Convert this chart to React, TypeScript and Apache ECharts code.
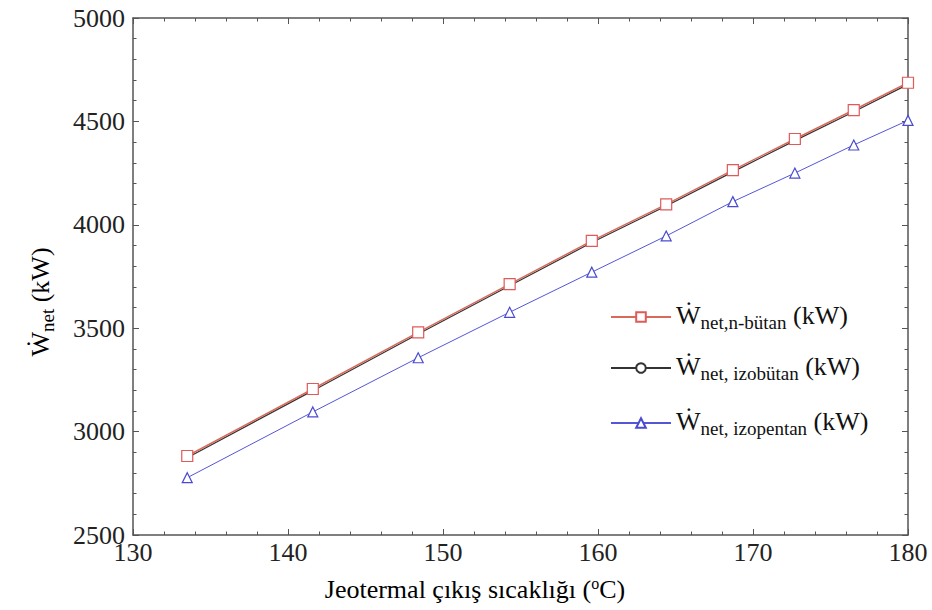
import React, { useEffect, useRef } from "react";
import * as echarts from "echarts";

const temps = [133.5, 141.6, 148.4, 154.3, 159.6, 164.4, 168.7, 172.7, 176.5, 180];
const nButan = [2882, 3206, 3480, 3713, 3922, 4099, 4264, 4415, 4555, 4687];
const izoButan = [2874, 3198, 3472, 3705, 3914, 4091, 4256, 4407, 4547, 4679];
const izoPentan = [2777, 3095, 3357, 3577, 3771, 3946, 4112, 4250, 4386, 4505];

const xTicks = [130, 140, 150, 160, 170, 180];
const yTicks = [2500, 3000, 3500, 4000, 4500, 5000];

const seriesNames = ["nbutan", "izobutan", "izopentan"];
const seriesSubs = ["net,n-bütan", "net, izobütan", "net, izopentan"];

const FONT = "'Liberation Serif', 'Times New Roman', serif";

export default function App() {
  const ref = useRef<HTMLDivElement>(null);
  useEffect(() => {
    if (!ref.current) return;
    const chart = echarts.init(ref.current, undefined, { renderer: "svg" });
    const pair = (ys: number[]) => temps.map((t, i) => [t, ys[i]]);
    const rich = {
      w: { fontSize: 26, fontFamily: FONT, color: "#111", verticalAlign: "bottom", padding: [0, 0, 4, 0] },
      s: { fontSize: 19, fontFamily: FONT, color: "#111", verticalAlign: "bottom" },
    };
    const legendFmt = (name: string) => {
      const i = seriesNames.indexOf(name);
      return `{w|Ẇ}{s|${seriesSubs[i]}}{w| (kW)}`;
    };
    const axisLine = { show: true, lineStyle: { color: "#555", width: 1.5 } };
    const common = {
      axisLine,
      axisTick: { show: true, inside: true, length: 6, lineStyle: { color: "#555" } },
      minorTick: { show: true, splitNumber: 5, length: 3.5, lineStyle: { color: "#555" } },
      splitLine: { show: false },
    };
    const mkLegend = (name: string, top: number) => ({
      data: [name],
      left: 610,
      top,
      padding: 0,
      itemWidth: 60,
      itemHeight: 12,
      itemGap: 4,
      formatter: legendFmt,
      textStyle: { rich, fontFamily: FONT, color: "#111" },
    });
    const plain = (v: number) => String(v);
    chart.setOption({
      animation: false,
      backgroundColor: "#fff",
      textStyle: { fontFamily: FONT },
      grid: { left: 133, top: 18, right: 24, bottom: 75 },
      xAxis: [
        {
          type: "value",
          min: xTicks[0],
          max: xTicks[xTicks.length - 1],
          interval: 10,
          ...common,
          axisLabel: { fontSize: 26, fontFamily: FONT, color: "#222", margin: 4, formatter: plain },
        },
        {
          type: "value",
          position: "top",
          min: xTicks[0],
          max: xTicks[xTicks.length - 1],
          interval: 10,
          ...common,
          axisLabel: { show: false },
        },
      ],
      yAxis: [
        {
          type: "value",
          min: yTicks[0],
          max: yTicks[yTicks.length - 1],
          interval: 500,
          ...common,
          axisLabel: { fontSize: 26, fontFamily: FONT, color: "#222", margin: 8, formatter: plain },
        },
        {
          type: "value",
          position: "right",
          min: yTicks[0],
          max: yTicks[yTicks.length - 1],
          interval: 500,
          ...common,
          axisLabel: { show: false },
        },
      ],
      legend: [mkLegend("nbutan", 302), mkLegend("izobutan", 353), mkLegend("izopentan", 408)],
      series: [
        {
          name: "izobutan",
          type: "line",
          data: pair(izoButan),
          symbol: "circle",
          symbolSize: 6,
          itemStyle: { color: "#fff", borderColor: "#333", borderWidth: 1 },
          lineStyle: { color: "#333", width: 1.2 },
          z: 2,
        },
        {
          name: "nbutan",
          type: "line",
          data: pair(nButan),
          symbol: "rect",
          symbolSize: 11,
          itemStyle: { color: "#fff", borderColor: "#e05a5a", borderWidth: 1.2 },
          lineStyle: { color: "#d86a5a", width: 1.5 },
          z: 3,
        },
        {
          name: "izopentan",
          type: "line",
          data: pair(izoPentan),
          symbol: "triangle",
          symbolSize: 10,
          itemStyle: { color: "#fff", borderColor: "#4a4ad0", borderWidth: 1.2 },
          lineStyle: { color: "#5555d8", width: 1 },
          z: 4,
        },
      ],
      graphic: [
        {
          type: "text",
          x: 42,
          y: 302,
          rotation: Math.PI / 2,
          style: {
            text: "{w|Ẇ}{s|net}{w| (kW)}",
            align: "center",
            verticalAlign: "middle",
            rich,
          },
        },
        {
          type: "text",
          x: 475,
          y: 589,
          style: {
            text: "{t|Jeotermal çıkış sıcaklığı (}{u|o}{t|C)}",
            align: "center",
            verticalAlign: "middle",
            rich: {
              t: { fontSize: 26, fontFamily: FONT, color: "#111", verticalAlign: "bottom" },
              u: { fontSize: 16, fontFamily: FONT, color: "#111", verticalAlign: "bottom", padding: [0, 0, 11, 0] },
            },
          },
        },
      ],
    });
    return () => chart.dispose();
  }, []);
  return (
    <div
      ref={ref}
      style={{ position: "absolute", left: 0, top: 0, width: 932, height: 610 }}
    />
  );
}
